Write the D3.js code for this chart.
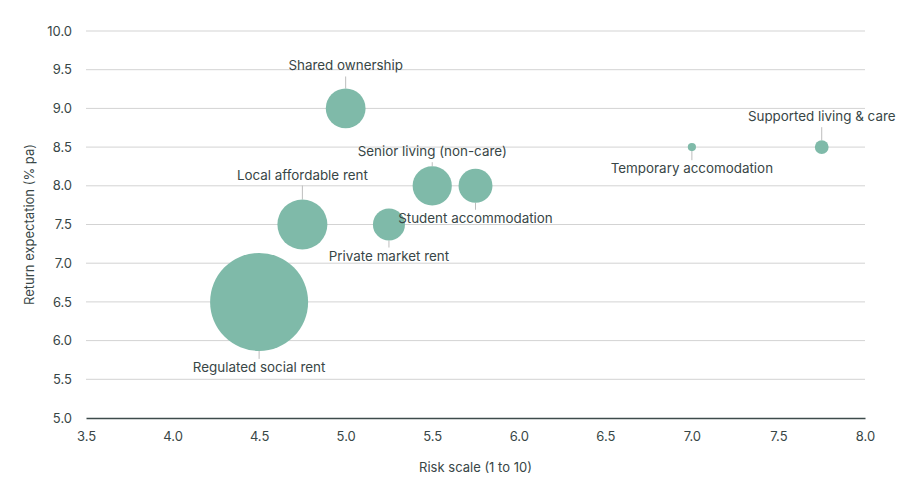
<!DOCTYPE html>
<html>
<head>
<meta charset="utf-8">
<script src="https://cdn.jsdelivr.net/npm/d3@7"></script>
<style>
  body { margin: 0; background: #fff; }
  svg text { font-family: Inter, "Noto Sans", sans-serif; fill: #384646; }
</style>
</head>
<body>
<svg id="chart" width="900" height="500"></svg>
<script>
// data
const names = [
  "Regulated social rent", "Local affordable rent", "Shared ownership",
  "Private market rent", "Senior living (non-care)", "Student accommodation",
  "Temporary accomodation", "Supported living & care"
];
const risk = [4.5, 4.75, 5.0, 5.25, 5.5, 5.75, 7.0, 7.75];
const ret = [6.5, 7.5, 9.0, 7.5, 8.0, 8.0, 8.5, 8.5];
const size = [100, 26, 16.5, 10.7, 16, 12, 0.7, 2];
const xTicks = [3.5, 4.0, 4.5, 5.0, 5.5, 6.0, 6.5, 7.0, 7.5, 8.0];
const yTicks = [5.0, 5.5, 6.0, 6.5, 7.0, 7.5, 8.0, 8.5, 9.0, 9.5, 10.0];

// label layout: side and leader length
const labelSide = ["below", "above", "above", "below", "above", "below", "below", "above"];
const leaderLen = [8, 14, 12, 7, 4, 7, 9, 13];

const margin = { top: 31, right: 35, bottom: 82, left: 86 };
const width = 900 - margin.left - margin.right;
const chart_height = 500 - margin.top - margin.bottom;

const svg = d3.select("#chart");
const g = svg.append("g").attr("transform", `translate(${margin.left},${margin.top})`);

const xScale = d3.scaleLinear().domain([3.5, 8.0]).range([0, width]);
const yScale = d3.scaleLinear().domain([5.0, 10.0]).range([chart_height, 0]);
const rScale = d3.scaleSqrt().domain([0, 100]).range([0, 49]);

// gridlines
g.append("g")
  .selectAll("line")
  .data(yTicks.filter((t) => t > 5))
  .join("line")
  .attr("x1", 0)
  .attr("x2", width)
  .attr("y1", (d) => yScale(d))
  .attr("y2", (d) => yScale(d))
  .attr("stroke", "#d3d3d3")
  .attr("stroke-width", 1);

// y axis
const yAxis = g.append("g")
  .call(d3.axisLeft(yScale).tickValues(yTicks).tickFormat(d3.format(".1f")).tickSize(0).tickPadding(14));
yAxis.select(".domain").remove();
yAxis.selectAll("text").attr("font-size", 13);

// x axis
const xAxis = g.append("g")
  .attr("transform", `translate(0,${chart_height})`)
  .call(d3.axisBottom(xScale).tickValues(xTicks).tickFormat(d3.format(".1f")).tickSize(0).tickPadding(14));
xAxis.select(".domain").attr("stroke", "#3d4b4b").attr("stroke-width", 1.5);
xAxis.selectAll("text").attr("font-size", 13);

// axis titles
svg.append("text")
  .attr("x", margin.left + width / 2)
  .attr("y", 472)
  .attr("text-anchor", "middle")
  .attr("font-size", 13)
  .text("Risk scale (1 to 10)");

svg.append("text")
  .attr("transform", `translate(34,${margin.top + chart_height / 2}) rotate(-90)`)
  .attr("text-anchor", "middle")
  .attr("font-size", 13)
  .text("Return expectation (% pa)");

const points = names.map((n, i) => ({
  name: n, risk: risk[i], ret: ret[i], size: size[i], side: labelSide[i], lead: leaderLen[i]
}));

// leader lines
g.append("g")
  .selectAll("line")
  .data(points)
  .join("line")
  .attr("x1", (d) => xScale(d.risk))
  .attr("x2", (d) => xScale(d.risk))
  .attr("y1", (d) => yScale(d.ret) + (d.side === "above" ? -1 : 1) * rScale(d.size))
  .attr("y2", (d) => yScale(d.ret) + (d.side === "above" ? -1 : 1) * (rScale(d.size) + d.lead))
  .attr("stroke", "#bdbdbd")
  .attr("stroke-width", 1);

// bubbles
g.append("g")
  .selectAll("circle")
  .data(points)
  .join("circle")
  .attr("cx", (d) => xScale(d.risk))
  .attr("cy", (d) => yScale(d.ret))
  .attr("r", (d) => rScale(d.size))
  .attr("fill", "#7fbaa9");

// labels
g.append("g")
  .selectAll("text")
  .data(points)
  .join("text")
  .attr("x", (d) => xScale(d.risk))
  .attr("y", (d) => d.side === "above"
    ? yScale(d.ret) - rScale(d.size) - d.lead - 6
    : yScale(d.ret) + rScale(d.size) + d.lead + 13)
  .attr("text-anchor", "middle")
  .attr("font-size", 13.4)
  .text((d) => d.name);
</script>
</body>
</html>
